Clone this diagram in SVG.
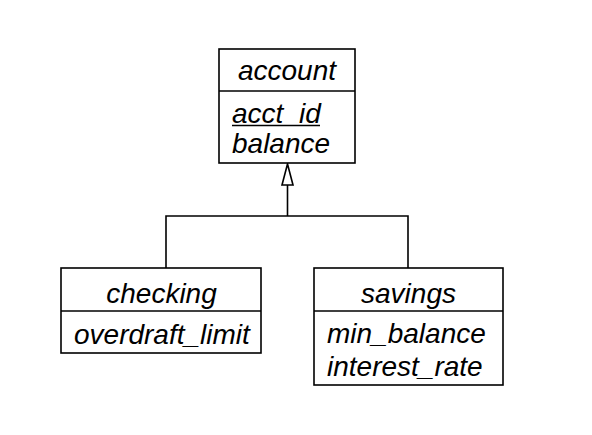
<svg xmlns="http://www.w3.org/2000/svg" width="592" height="435" viewBox="0 0 592 435">
<defs>
<style>
.box{fill:#fff;stroke:#000;stroke-width:1.6}
.ln{fill:none;stroke:#000;stroke-width:1.6}
.t{font-family:"Liberation Sans",Arial,sans-serif;font-style:italic;font-size:28px;fill:#000}
.c{text-anchor:middle}
</style>
</defs>
<rect width="592" height="435" fill="#fff"/>
<g id="connectors">
<polyline class="ln" points="166,268 166,216 408,216 408,268"/>
<line class="ln" x1="287.5" y1="216" x2="287.5" y2="185"/>
<polygon class="ln" fill="#fff" points="287.5,164 282,185 293,185"/>
</g>
<g id="account">
<rect class="box" x="219" y="49" width="136" height="114"/>
<line class="ln" x1="219" y1="91" x2="355" y2="91"/>
<text class="t c" x="287" y="80">account</text>
<text class="t" x="232" y="122.5">acct_id</text>
<line class="ln" x1="232" y1="125.5" x2="320" y2="125.5"/>
<text class="t" x="232" y="153">balance</text>
</g>
<g id="checking">
<rect class="box" x="61" y="268" width="200" height="85"/>
<line class="ln" x1="61" y1="311" x2="261" y2="311"/>
<text class="t c" x="161.5" y="302.5">checking</text>
<text class="t" x="74" y="343.5">overdraft_limit</text>
</g>
<g id="savings">
<rect class="box" x="314" y="268" width="189" height="117"/>
<line class="ln" x1="314" y1="311" x2="503" y2="311"/>
<text class="t c" x="408.5" y="302.5">savings</text>
<text class="t" x="327" y="342.5">min_balance</text>
<text class="t" x="327" y="375.5">interest_rate</text>
</g>
</svg>
